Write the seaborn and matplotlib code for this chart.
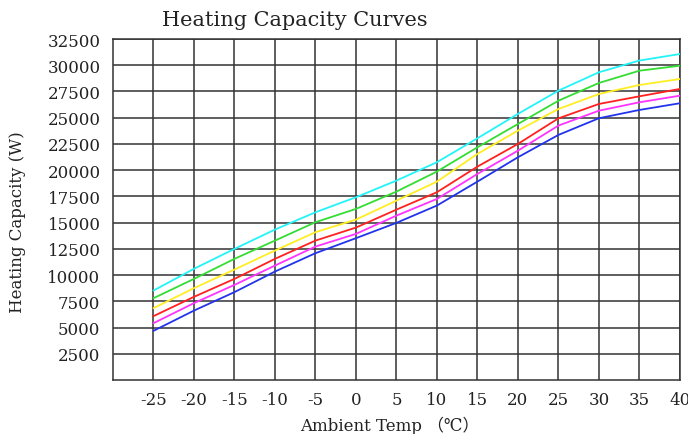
import numpy as np
import pandas as pd
import seaborn as sns
import matplotlib.pyplot as plt

# Dados (W)
temps = [-25, -20, -15, -10, -5, 0, 5, 10, 15, 20, 25, 30, 35, 40]
curva_ciano = [8530, 10600, 12500, 14340, 15990, 17420, 19010, 20760, 23040, 25360, 27580, 29330, 30450, 31070]
curva_verde = [7800, 9640, 11550, 13290, 15040, 16310, 17960, 19870, 22180, 24400, 26620, 28310, 29480, 29960]
curva_amarela = [6850, 8760, 10530, 12340, 14090, 15290, 17100, 18910, 21550, 23770, 25830, 27260, 28120, 28690]
curva_vermelha = [6090, 7930, 9640, 11550, 13290, 14530, 16240, 17900, 20340, 22500, 24940, 26310, 27040, 27740]
curva_magenta = [5420, 7330, 9070, 10910, 12720, 13930, 15670, 17260, 19640, 21860, 24250, 25670, 26470, 27100]
curva_azul = [4690, 6620, 8380, 10340, 12090, 13520, 14980, 16630, 18910, 21230, 23360, 24950, 25740, 26380]

nomes = ["c1", "c2", "c3", "c4", "c5", "c6"]
cores = ["#22f4f8", "#33dd33", "#ffee22", "#ff2020", "#ff33ff", "#2233ee"]
series = [curva_ciano, curva_verde, curva_amarela, curva_vermelha, curva_magenta, curva_azul]

df = pd.DataFrame({
    "temp": temps * len(series),
    "cap": sum(series, []),
    "curva": np.repeat(nomes, len(temps)),
})

sns.set_style("white")
plt.rcParams["font.family"] = ["DejaVu Serif", "Noto Sans CJK SC"]

fig = plt.figure(figsize=(6.88, 4.35), dpi=100)
ax = fig.add_axes([0.1642, 0.124, 0.824, 0.784])

sns.lineplot(data=df, x="temp", y="cap", hue="curva", palette=dict(zip(nomes, cores)),
             linewidth=1.3, legend=False, ax=ax, zorder=3)

ax.set_xlim(-30, 40)
ax.set_ylim(0, 32500)
ax.set_xticks(temps)
ax.set_yticks(np.arange(2500, 32501, 2500))
ax.set_xticklabels([str(t) for t in temps])
ax.set_yticklabels([str(v) for v in range(2500, 32501, 2500)])
ax.tick_params(axis="both", length=0, labelsize=12, colors="#222222")
ax.tick_params(axis="x", pad=8)
ax.tick_params(axis="y", pad=9)
ax.grid(True, color="#333333", linewidth=1.1)
ax.set_axisbelow(True)
for s in ax.spines.values():
    s.set_color("#333333")
    s.set_linewidth(1.1)

ax.set_xlabel("")
ax.set_ylabel("")
fig.text(0.567, 0.022, "Ambient Temp （℃）", ha="center", va="center", fontsize=12, color="#222222")
fig.text(0.026, 0.49, "Heating Capacity (W)", ha="center", va="center", rotation=90, fontsize=12, color="#222222")
fig.text(0.429, 0.953, "Heating Capacity Curves", ha="center", va="center", fontsize=15, color="#222222")

fig.savefig("out.png", dpi=100)
